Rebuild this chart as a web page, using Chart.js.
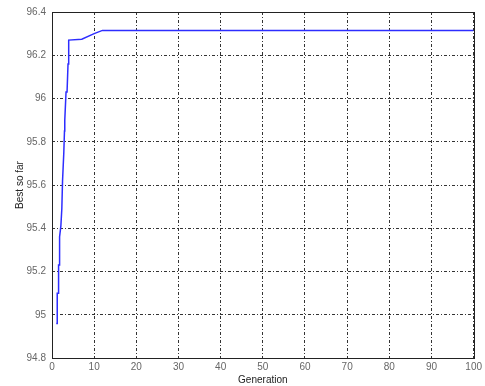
<!DOCTYPE html>
<html>
<head>
<meta charset="utf-8">
<script src="https://cdn.jsdelivr.net/npm/chart.js@4/dist/chart.umd.min.js"></script>
<style>
  html, body { margin: 0; padding: 0; background: #fff; }
  #wrap { width: 485px; height: 386px; }
</style>
</head>
<body>
<div id="wrap"><canvas id="c" width="485" height="386"></canvas></div>
<script>
// Best fitness found so far, per generation
const generations = [1.0, 1.24, 1.24, 1.56, 1.56, 1.8, 1.8, 2.1, 2.33, 2.5, 2.8, 2.96, 3.03, 3.33, 3.57, 3.8, 3.96, 3.96, 7.06, 10.0, 11.96, 100];
const bestSoFar   = [94.96, 94.96, 95.10, 95.10, 95.23, 95.23, 95.36, 95.41, 95.49, 95.62, 95.75, 95.85, 95.90, 96.03, 96.03, 96.16, 96.16, 96.27, 96.274, 96.30, 96.315, 96.315];

const xTicks = [0, 10, 20, 30, 40, 50, 60, 70, 80, 90, 100];
const yTicks = [94.8, 95, 95.2, 95.4, 95.6, 95.8, 96, 96.2, 96.4];

const xTitle = 'Generation';
const yTitle = 'Best so far';

const points = generations.map((g, i) => ({ x: g, y: bestSoFar[i] }));

// Closed axes box drawn over the plot area
const boxPlugin = {
  id: 'box',
  afterDraw(chart) {
    const { ctx, chartArea: a } = chart;
    ctx.save();
    ctx.strokeStyle = '#222';
    ctx.lineWidth = 1;
    ctx.setLineDash([]);
    ctx.strokeRect(Math.round(a.left) + 0.5, Math.round(a.top) + 0.5,
                   Math.round(a.right - a.left), Math.round(a.bottom - a.top));
    ctx.restore();
  }
};

const tickFont = { family: 'Liberation Sans, Arial, sans-serif', size: 10 };
const titleFont = { family: 'Liberation Sans, Arial, sans-serif', size: 10 };
const gridDash = [3, 2, 1, 2];

new Chart(document.getElementById('c'), {
  type: 'scatter',
  data: {
    datasets: [{
      data: points,
      showLine: true,
      borderColor: 'rgb(45,45,255)',
      borderWidth: 1.5,
      pointRadius: 0,
      tension: 0,
      fill: false
    }]
  },
  options: {
    responsive: false,
    animation: false,
    layout: { padding: { top: 12, right: 4, left: 0, bottom: 0 } },
    plugins: { legend: { display: false }, tooltip: { enabled: false } },
    scales: {
      x: {
        type: 'linear',
        min: 0, max: 100,
        afterBuildTicks(scale) { scale.ticks = xTicks.map(v => ({ value: v })); },
        afterFit(scale) { scale.height = 28; },
        ticks: { color: '#666', font: tickFont, padding: 3, maxRotation: 0,
                 callback: v => String(v) },
        grid: { color: '#333', lineWidth: 1, drawTicks: false },
        border: { display: false, dash: gridDash },
        title: { display: true, text: xTitle, color: '#222', font: titleFont, padding: { top: 0, bottom: 0 } }
      },
      y: {
        type: 'linear',
        min: 94.8, max: 96.4,
        afterBuildTicks(scale) { scale.ticks = yTicks.map(v => ({ value: v })); },
        afterFit(scale) { scale.width = 52; },
        ticks: { color: '#666', font: tickFont, padding: 6,
                 callback: v => String(Number(v.toFixed(1))) },
        grid: { color: '#333', lineWidth: 1, drawTicks: false },
        border: { display: false, dash: gridDash },
        title: { display: true, text: yTitle, color: '#222', font: titleFont, padding: { top: 14, bottom: 0 } }
      }
    }
  },
  plugins: [boxPlugin]
});
</script>
</body>
</html>
